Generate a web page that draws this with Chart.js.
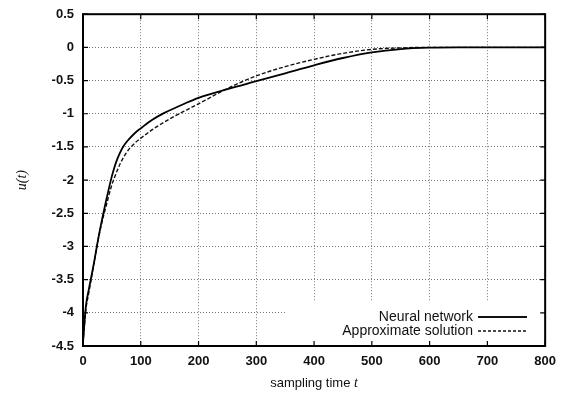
<!DOCTYPE html>
<html>
<head>
<meta charset="utf-8">
<script src="https://cdn.jsdelivr.net/npm/chart.js@4/dist/chart.umd.min.js"></script>
<style>
  html, body { margin: 0; padding: 0; background: #fff; }
  #wrap { width: 566px; height: 396px; }
</style>
</head>
<body>
<div id="wrap"><canvas id="chart"></canvas></div>
<script>
// sampling instants
const times = [0, 5, 10, 15, 20, 25, 30, 40, 50, 55, 60, 65, 70, 75, 80, 90, 100, 120, 140, 160, 180, 200, 250, 300, 350, 400, 450, 500, 550, 600, 650, 700, 800];
// neural network output u(t)
const neuralNet = [-4.45, -3.9, -3.65, -3.43, -3.2, -2.95, -2.72, -2.31, -1.94, -1.79, -1.67, -1.57, -1.49, -1.43, -1.38, -1.29, -1.22, -1.09, -0.99, -0.91, -0.83, -0.76, -0.63, -0.51, -0.39, -0.27, -0.16, -0.075, -0.025, -0.005, 0, 0, 0];
// approximate solution u(t)
const approx = [-4.45, -3.95, -3.7, -3.45, -3.2, -2.96, -2.74, -2.39, -2.07, -1.95, -1.84, -1.74, -1.66, -1.59, -1.53, -1.44, -1.37, -1.24, -1.13, -1.03, -0.94, -0.85, -0.62, -0.43, -0.29, -0.18, -0.09, -0.03, -0.008, 0, 0, 0, 0];
const seriesNames = ['Neural network', 'Approximate solution'];

const toPoints = (ys) => times.map((t, i) => ({ x: t, y: ys[i] }));

const tickFont = { family: 'Liberation Sans, Arial, sans-serif', size: 13, weight: 'bold', lineHeight: 0.8 };

// gnuplot-like frame, inward ticks, legend and x title
const decorations = {
  id: 'decorations',
  afterDraw(chart) {
    const ctx = chart.ctx;
    const a = chart.chartArea;
    const xs = chart.scales.x, ys = chart.scales.y;
    ctx.save();
    // legend
    ctx.fillStyle = '#fff';
    ctx.fillRect(286, 302, a.right - 287, a.bottom - 303);
    ctx.font = '14px Liberation Sans, Arial, sans-serif';
    ctx.fillStyle = '#111';
    ctx.textAlign = 'right';
    ctx.textBaseline = 'middle';
    const rows = [317, 331];
    seriesNames.forEach((name, i) => {
      ctx.fillText(name, 473, rows[i]);
      ctx.beginPath();
      ctx.lineWidth = i === 0 ? 1.8 : 1.4;
      ctx.setLineDash(i === 0 ? [] : [3, 2]);
      ctx.strokeStyle = '#111';
      ctx.moveTo(478, rows[i]);
      ctx.lineTo(527, rows[i]);
      ctx.stroke();
    });
    ctx.setLineDash([]);
    // frame
    ctx.strokeStyle = '#000';
    ctx.lineWidth = 2;
    ctx.strokeRect(a.left, a.top, a.right - a.left, a.bottom - a.top);
    // inward ticks
    ctx.lineWidth = 1.2;
    ctx.beginPath();
    xs.ticks.forEach(t => {
      const px = xs.getPixelForValue(t.value);
      ctx.moveTo(px, a.bottom); ctx.lineTo(px, a.bottom - 5);
      ctx.moveTo(px, a.top); ctx.lineTo(px, a.top + 5);
    });
    ys.ticks.forEach(t => {
      const py = ys.getPixelForValue(t.value);
      ctx.moveTo(a.left, py); ctx.lineTo(a.left + 5, py);
      ctx.moveTo(a.right, py); ctx.lineTo(a.right - 5, py);
    });
    ctx.stroke();
    // x title with italic t
    ctx.fillStyle = '#111';
    ctx.textBaseline = 'middle';
    ctx.textAlign = 'left';
    const main = 'sampling time ';
    ctx.font = '13px Liberation Sans, Arial, sans-serif';
    const w1 = ctx.measureText(main).width;
    ctx.font = 'italic 14px Liberation Serif, serif';
    const w2 = ctx.measureText('t').width;
    const cx = (a.left + a.right) / 2;
    const x0 = cx - (w1 + w2) / 2;
    ctx.font = '13px Liberation Sans, Arial, sans-serif';
    ctx.fillText(main, x0, 383);
    ctx.font = 'italic 14px Liberation Serif, serif';
    ctx.fillText('t', x0 + w1, 383);
    ctx.restore();
  }
};

new Chart(document.getElementById('chart'), {
  type: 'line',
  data: {
    datasets: [{
      label: seriesNames[0],
      data: toPoints(neuralNet),
      borderColor: '#000',
      borderWidth: 1.8,
      pointRadius: 0,
      cubicInterpolationMode: 'monotone',
      fill: false
    }, {
      label: seriesNames[1],
      data: toPoints(approx),
      borderColor: '#111',
      borderWidth: 1.4,
      borderDash: [4, 2],
      pointRadius: 0,
      cubicInterpolationMode: 'monotone',
      fill: false
    }]
  },
  options: {
    responsive: true,
    maintainAspectRatio: false,
    animation: false,
    layout: { padding: { top: 13, right: 20, left: 14, bottom: 0 } },
    plugins: {
      legend: { display: false },
      tooltip: { enabled: false }
    },
    scales: {
      x: {
        type: 'linear',
        min: 0,
        max: 800,
        ticks: { stepSize: 100, color: '#111', font: tickFont, padding: 10, maxRotation: 0 },
        grid: { color: '#555', lineWidth: 0.8, drawTicks: false },
        border: { display: false, dash: [1, 2] },
        afterFit(scale) { scale.height = 50; }
      },
      y: {
        min: -4.5,
        max: 0.5,
        ticks: {
          stepSize: 0.5,
          color: '#111',
          font: tickFont,
          padding: 9,
          callback: (v) => String(Math.round(v * 10) / 10)
        },
        title: {
          display: true,
          text: 'u(t)',
          color: '#111',
          font: { family: 'Liberation Serif, serif', size: 14, style: 'italic' },
          padding: 0
        },
        grid: { color: '#555', lineWidth: 0.8, drawTicks: false },
        border: { display: false, dash: [1, 2] },
        afterFit(scale) { scale.width = 69; }
      }
    }
  },
  plugins: [decorations]
});
</script>
</body>
</html>
